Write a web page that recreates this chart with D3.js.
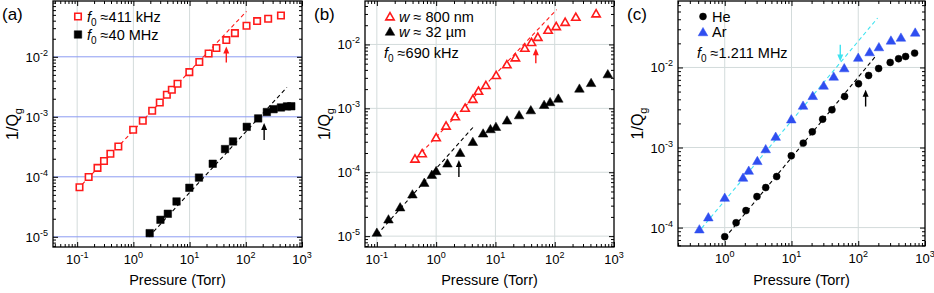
<!DOCTYPE html>
<html>
<head>
<meta charset="utf-8">
<script src="https://cdn.jsdelivr.net/npm/d3@7"></script>
<style>
 body { margin: 0; background: #fff; }
 svg { display: block; font-family: "Liberation Sans", Arial, sans-serif; }
</style>
</head>
<body>
<svg id="chart" width="934" height="293"></svg>
<script>
// ---- data ----
// panel (a): f0 ~ 411 kHz (open red squares), f0 ~ 40 MHz (black squares)
var aRedP = [0.11, 0.16, 0.23, 0.30, 0.39, 0.54, 0.99, 1.47, 2.16, 2.95, 3.94, 4.83, 6.1, 9.9, 14.9, 21.8, 30, 45, 64, 103, 159, 250, 422];
var aRedQ = [6.7e-5, 9.9e-5, 1.41e-4, 1.83e-4, 2.42e-4, 3.2e-4, 6.07e-4, 8.6e-4, 1.26e-3, 1.73e-3, 2.33e-3, 2.82e-3, 3.55e-3, 5.56e-3, 8.2e-3, 1.135e-2, 1.4e-2, 1.9e-2, 2.48e-2, 3.29e-2, 3.94e-2, 4.3e-2, 4.88e-2];
var aBlkP = [1.95, 3.03, 4.1, 5.86, 9.9, 14.7, 25.8, 42.7, 59.3, 104, 166, 237, 312, 422, 540, 645];
var aBlkQ = [1.15e-5, 1.92e-5, 2.42e-5, 3.88e-5, 6.56e-5, 9.7e-5, 1.65e-4, 2.9e-4, 3.88e-4, 6.8e-4, 9.4e-4, 1.2e-3, 1.34e-3, 1.43e-3, 1.49e-3, 1.5e-3];

// panel (b): w ~ 800 nm (open red triangles), w ~ 32 um (black triangles)
var bRedP = [0.44, 0.58, 1.0, 1.47, 2.1, 3.08, 4.16, 5.17, 6.9, 10.3, 15.6, 21.7, 31.3, 40.5, 51.9, 77.4, 106, 150, 227, 499];
var bRedQ = [1.63e-4, 1.98e-4, 3.52e-4, 5.35e-4, 7.5e-4, 1.02e-3, 1.4e-3, 1.88e-3, 2.31e-3, 3.31e-3, 4.87e-3, 6.26e-3, 8.85e-3, 1.09e-2, 1.31e-2, 1.69e-2, 1.93e-2, 2.25e-2, 2.7e-2, 3.05e-2];
var bBlkP = [0.1, 0.157, 0.247, 0.398, 0.63, 0.846, 1.0, 1.55, 2.54, 4.16, 6.2, 8.24, 10.2, 15.7, 25.1, 39.5, 66.3, 83.6, 115, 261, 411, 786];
var bBlkQ = [1.14e-5, 1.84e-5, 2.84e-5, 4.53e-5, 6.88e-5, 9.17e-5, 1.05e-4, 1.38e-4, 2.02e-4, 3.0e-4, 4.07e-4, 4.75e-4, 5.16e-4, 6.5e-4, 7.86e-4, 9.4e-4, 1.14e-3, 1.26e-3, 1.43e-3, 2.05e-3, 2.51e-3, 3.44e-3];

// panel (c): He (black circles), Ar (blue triangles)
var cHeP = [1.0, 1.48, 2.08, 3.04, 4.11, 6.0, 9.93, 15.0, 20.5, 29.3, 40.4, 62.5, 101, 143, 202, 301, 402, 512, 699];
var cHeQ = [7.7e-5, 1.15e-4, 1.63e-4, 2.44e-4, 3.16e-4, 4.34e-4, 7.87e-4, 1.135e-3, 1.57e-3, 2.26e-3, 2.96e-3, 4.34e-3, 6.25e-3, 7.94e-3, 9.7e-3, 1.155e-2, 1.285e-2, 1.37e-2, 1.51e-2];
var cArP = [0.417, 0.568, 1.0, 1.88, 2.29, 3.08, 4.11, 5.8, 9.93, 14.9, 20.8, 30.3, 42.9, 61.7, 100, 148, 204, 309, 436, 713];
var cArQ = [9.55e-5, 1.35e-4, 2.37e-4, 4.22e-4, 5.16e-4, 6.82e-4, 9.58e-4, 1.37e-3, 2.26e-3, 3.35e-3, 4.43e-3, 5.96e-3, 7.72e-3, 9.83e-3, 1.33e-2, 1.56e-2, 1.8e-2, 2.18e-2, 2.37e-2, 2.74e-2];

// dashed linear fits: [p0, p1], [q0, q1]
var aRedFitP = [0.1, 103], aRedFitQ = [6.1e-5, 0.057];
var aBlkFitP = [1.88, 540], aBlkFitQ = [1.0e-5, 3.1e-3];
var bRedFitP = [0.39, 108], bRedFitQ = [1.41e-4, 0.0352];
var bBlkFitP = [0.1, 4.4], bBlkFitQ = [1.05e-5, 5.3e-4];
var cArFitP = [0.45, 195], cArFitQ = [9.8e-5, 0.0414];
var cHeFitP = [1.0, 178], cHeFitQ = [7.4e-5, 0.0135];

// arrows: pressure, tail 1/Q, head 1/Q
var aRedArrow = [45, 8.03e-3, 1.49e-2];
var aBlkArrow = [212, 4.1e-4, 7.9e-4];
var bRedArrow = [48, 5.1e-3, 8.75e-3];
var bBlkArrow = [2.42, 8.45e-5, 1.56e-4];
var cArArrow = [53.8, 1.92e-2, 1.19e-2];
var cHeArrow = [129, 3.25e-3, 5.26e-3];

var xDecades = [-1, 0, 1, 2, 3];

var red = "#ff1a1a", blue = "#2f4ef0", cyan = "#3fe3f0";

var svg = d3.select("#chart");

function zip(a, b) { return a.map(function(v, i) { return [v, b[i]]; }); }

function panel(cfg) {
 var g = svg.append("g");
 var x = d3.scaleLog().domain(cfg.xd).range([cfg.left, cfg.right]);
 var y = d3.scaleLog().domain(cfg.yd).range([cfg.bottom, cfg.top]);

 var xMaj = xDecades.map(function(e) { return Math.pow(10, e); })
  .filter(function(v) { return v >= cfg.xd[0] * 0.999 && v <= cfg.xd[1] * 1.001; });
 var yMaj = d3.range(-6, 0).map(function(e) { return Math.pow(10, e); })
  .filter(function(v) { return v >= cfg.yd[0] && v <= cfg.yd[1]; });
 function minors(d) {
  var out = [];
  for (var e = -7; e < 4; e++) for (var k = 2; k < 10; k++) {
   var v = k * Math.pow(10, e);
   if (v > d[0] && v < d[1]) out.push(v);
  }
  return out;
 }

 // grid
 g.selectAll(".vg").data(xMaj.filter(function(v) { return v < cfg.xd[1] * 0.99; })).enter().append("line")
  .attr("x1", function(d) { return x(d); }).attr("x2", function(d) { return x(d); })
  .attr("y1", cfg.top).attr("y2", cfg.bottom)
  .attr("stroke", "#d3dbdb").attr("stroke-width", 1);
 g.selectAll(".hg").data(yMaj).enter().append("line")
  .attr("x1", cfg.left).attr("x2", cfg.right)
  .attr("y1", function(d) { return y(d); }).attr("y2", function(d) { return y(d); })
  .attr("stroke", cfg.hgrid).attr("stroke-width", 1);

 // axes ticks (inward on all four sides)
 var h = cfg.bottom - cfg.top, w = cfg.right - cfg.left;
 function ax(gen, scale, vals, size, tr) {
  g.append("g").attr("transform", tr)
   .call(gen(scale).tickValues(vals).tickSize(size).tickFormat(""))
   .call(function(s) { s.select(".domain").remove(); s.selectAll("line").attr("stroke", "#000"); });
 }
 ax(d3.axisBottom, x, xMaj, -5, "translate(0," + cfg.bottom + ")");
 ax(d3.axisBottom, x, minors(cfg.xd), -3, "translate(0," + cfg.bottom + ")");
 ax(d3.axisTop, x, xMaj, -5, "translate(0," + cfg.top + ")");
 ax(d3.axisTop, x, minors(cfg.xd), -3, "translate(0," + cfg.top + ")");
 ax(d3.axisLeft, y, yMaj, -5, "translate(" + cfg.left + ",0)");
 ax(d3.axisLeft, y, minors(cfg.yd), -3, "translate(" + cfg.left + ",0)");
 ax(d3.axisRight, y, yMaj, -5, "translate(" + cfg.right + ",0)");
 ax(d3.axisRight, y, minors(cfg.yd), -3, "translate(" + cfg.right + ",0)");

 g.append("rect").attr("x", cfg.left).attr("y", cfg.top).attr("width", w).attr("height", h)
  .attr("fill", "none").attr("stroke", "#000").attr("stroke-width", 1.3);

 // tick labels
 xMaj.forEach(function(v) {
  var t = g.append("text").attr("x", x(v)).attr("y", cfg.bottom + 17)
   .attr("text-anchor", "middle").attr("font-size", 13);
  t.append("tspan").text("10");
  t.append("tspan").attr("dy", -6).attr("font-size", 9).text(Math.round(Math.log10(v)));
 });
 yMaj.forEach(function(v) {
  var t = g.append("text").attr("x", cfg.left - 5).attr("y", y(v) + 5)
   .attr("text-anchor", "end").attr("font-size", 13);
  t.append("tspan").text("10");
  t.append("tspan").attr("dy", -6).attr("font-size", 9).text(Math.round(Math.log10(v)));
 });

 // axis titles
 g.append("text").attr("x", (cfg.left + cfg.right) / 2).attr("y", 285)
  .attr("text-anchor", "middle").attr("font-size", 14.5).text("Pressure (Torr)");
 var yl = g.append("text").attr("transform", "translate(" + (cfg.left - 35) + "," + (cfg.top + h / 2) + ") rotate(-90)")
  .attr("text-anchor", "middle").attr("font-size", 16);
 yl.append("tspan").text("1/Q");
 yl.append("tspan").attr("dy", 4).attr("font-size", 11).text("g");
 g.append("text").attr("x", cfg.left - 51).attr("y", 20).attr("font-size", 17).text(cfg.label);

 // clip for plotted marks
 var clipId = "clip" + cfg.label.replace(/\W/g, "");
 svg.append("clipPath").attr("id", clipId).append("rect")
  .attr("x", cfg.left).attr("y", cfg.top).attr("width", w).attr("height", h);
 var plot = g.append("g").attr("clip-path", "url(#" + clipId + ")");

 var line = d3.line().x(function(d) { return x(d[0]); }).y(function(d) { return y(d[1]); });
 cfg.fits.forEach(function(f) {
  plot.append("path").attr("d", line(zip(f.p, f.q)))
   .attr("fill", "none").attr("stroke", f.color).attr("stroke-width", 1.1)
   .attr("stroke-dasharray", "4,3");
 });

 cfg.series.forEach(function(s) {
  var sym = d3.symbol().type(s.type).size(s.size);
  plot.selectAll(null).data(zip(s.p, s.q)).enter().append("path")
   .attr("d", sym)
   .attr("transform", function(d) { return "translate(" + x(d[0]) + "," + (y(d[1]) + (s.dy || 0)) + ")"; })
   .attr("fill", s.open ? "#fff" : s.color)
   .attr("stroke", s.color).attr("stroke-width", s.open ? 1.6 : 0.5);
 });

 cfg.arrows.forEach(function(a) {
  var px = x(a.v[0]), y0 = y(a.v[1]), y1 = y(a.v[2]);
  var dir = y1 < y0 ? 1 : -1;
  plot.append("line").attr("x1", px).attr("x2", px).attr("y1", y0).attr("y2", y1 + dir * 3)
   .attr("stroke", a.color).attr("stroke-width", 1.4);
  plot.append("path")
   .attr("d", "M" + px + "," + y1 + "L" + (px - 3) + "," + (y1 + dir * 7) + "L" + (px + 3) + "," + (y1 + dir * 7) + "Z")
   .attr("fill", a.color);
 });

 // legend
 cfg.legend.forEach(function(l, i) {
  var ly = 16.5 + i * cfg.legStep;
  var sym = d3.symbol().type(l.s.type).size(l.s.size);
  g.append("path").attr("d", sym)
   .attr("transform", "translate(" + (cfg.left + 25) + "," + (ly + (l.s.dy || 0)) + ")")
   .attr("fill", l.s.open ? "#fff" : l.s.color)
   .attr("stroke", l.s.color).attr("stroke-width", l.s.open ? 1.6 : 0.5);
  l.draw(g.append("text").attr("x", cfg.left + 34).attr("y", ly + 5).attr("font-size", 14.5));
 });
 if (cfg.note) cfg.note(g.append("text").attr("x", cfg.left + 19).attr("y", 58).attr("font-size", 14.5));
}

function fText(t, rest) {
 t.append("tspan").attr("font-style", "italic").text("f");
 t.append("tspan").attr("dy", 4).attr("font-size", 10).text("0");
 t.append("tspan").attr("dy", -4).text(" \u2248" + rest);
}
function wText(t, rest) {
 t.append("tspan").attr("font-style", "italic").text("w");
 t.append("tspan").text(" \u2248 " + rest);
}

var sqRed = { p: aRedP, q: aRedQ, type: d3.symbolSquare, size: 42, color: red, open: true };
var sqBlk = { p: aBlkP, q: aBlkQ, type: d3.symbolSquare, size: 56, color: "#000" };
var trRed = { p: bRedP, q: bRedQ, type: d3.symbolTriangle, size: 30, color: red, open: true, dy: 1 };
var trBlk = { p: bBlkP, q: bBlkQ, type: d3.symbolTriangle, size: 40, color: "#000", dy: 1 };
var ciHe = { p: cHeP, q: cHeQ, type: d3.symbolCircle, size: 38, color: "#000" };
var trAr = { p: cArP, q: cArQ, type: d3.symbolTriangle, size: 40, color: blue, dy: 1 };

panel({
 label: "(a)", left: 53, right: 302, top: 1, bottom: 247,
 xd: [Math.pow(10, -1.43), 1000], yd: [Math.pow(10, -5.17), Math.pow(10, -1.07)],
 hgrid: "#8c9cf2", legStep: 18,
 series: [sqRed, sqBlk],
 fits: [{ p: aRedFitP, q: aRedFitQ, color: red }, { p: aBlkFitP, q: aBlkFitQ, color: "#000" }],
 arrows: [{ v: aRedArrow, color: red }, { v: aBlkArrow, color: "#000" }],
 legend: [
  { s: sqRed, draw: function(t) { fText(t, "411 kHz"); } },
  { s: sqBlk, draw: function(t) { fText(t, "40 MHz"); } }
 ]
});

panel({
 label: "(b)", left: 365, right: 614, top: 1, bottom: 247,
 xd: [Math.pow(10, -1.2), 1000], yd: [Math.pow(10, -5.17), Math.pow(10, -1.32)],
 hgrid: "#d3dbdb", legStep: 15,
 series: [trRed, trBlk],
 fits: [{ p: bRedFitP, q: bRedFitQ, color: red }, { p: bBlkFitP, q: bBlkFitQ, color: "#000" }],
 arrows: [{ v: bRedArrow, color: red }, { v: bBlkArrow, color: "#000" }],
 legend: [
  { s: trRed, draw: function(t) { wText(t, "800 nm"); } },
  { s: trBlk, draw: function(t) { wText(t, "32 \u00b5m"); } }
 ],
 note: function(t) { fText(t, "690 kHz"); }
});

panel({
 label: "(c)", left: 678, right: 925, top: 1, bottom: 246,
 xd: [Math.pow(10, -0.7), 1000], yd: [Math.pow(10, -4.23), Math.pow(10, -1.17)],
 hgrid: "#d3dbdb", legStep: 15.5,
 series: [trAr, ciHe],
 fits: [{ p: cArFitP, q: cArFitQ, color: cyan }, { p: cHeFitP, q: cHeFitQ, color: "#000" }],
 arrows: [{ v: cArArrow, color: cyan }, { v: cHeArrow, color: "#000" }],
 legend: [
  { s: ciHe, draw: function(t) { t.text("He"); } },
  { s: trAr, draw: function(t) { t.text("Ar"); } }
 ],
 note: function(t) { fText(t, "1.211 MHz"); }
});
</script>
</body>
</html>
